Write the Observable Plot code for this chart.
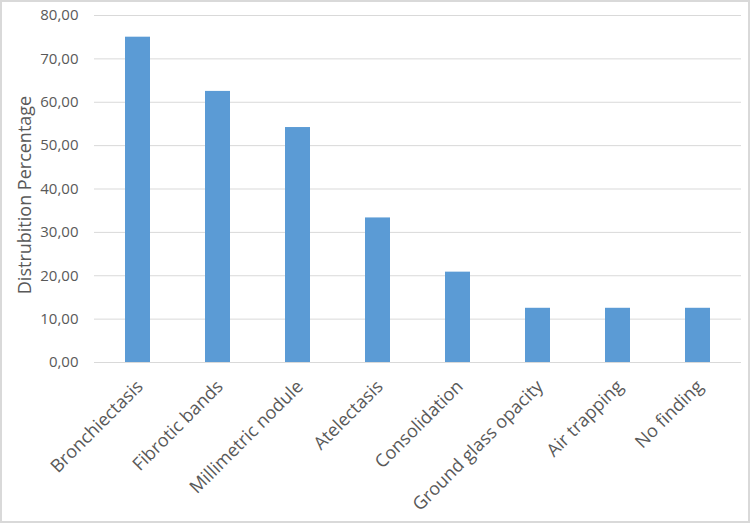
<!DOCTYPE html>
<html>
<head>
<meta charset="utf-8">
<script src="https://cdn.jsdelivr.net/npm/d3@7"></script>
<script src="https://cdn.jsdelivr.net/npm/@observablehq/plot@0.6"></script>
<style>
  html, body { margin: 0; padding: 0; background: #fff; }
  #wrap { position: relative; width: 750px; height: 523px; }
  #border { position: absolute; left: 0; top: 0; width: 750px; height: 523px; box-sizing: border-box;
            border: 2px solid #d9d9d9; pointer-events: none; }
  svg { display: block; }
</style>
</head>
<body>
<div id="wrap"><div id="border"></div></div>
<script>
const categories = ["Bronchiectasis", "Fibrotic bands", "Millimetric nodule", "Atelectasis",
                    "Consolidation", "Ground glass opacity", "Air trapping", "No finding"];
const values = [75.00, 62.50, 54.17, 33.33, 20.83, 12.50, 12.50, 12.50];
const yTicks = [0, 10, 20, 30, 40, 50, 60, 70, 80];
const yTitle = "Distrubition Percentage";

const data = categories.map((c, i) => ({category: c, value: values[i]}));
const fmt = d => d.toFixed(2).replace(".", ",");
const font = "'Open Sans', 'Liberation Sans', sans-serif";

const chart = Plot.plot({
  width: 750,
  height: 523,
  marginLeft: 94,
  marginRight: 9,
  marginTop: 15,
  marginBottom: 161,
  style: {fontFamily: font, color: "#595959", background: "#fff"},
  x: {domain: categories, paddingInner: 0.685, paddingOuter: 0.3425, align: 0.5, label: null},
  y: {domain: [0, 80], label: null},
  marks: [
    Plot.gridY(yTicks, {stroke: "#d9d9d9", strokeOpacity: 1, strokeWidth: 1}),
    Plot.barY(data, {x: "category", y: "value", fill: "#5B9BD5"}),
    Plot.axisY(yTicks, {tickSize: 0, tickPadding: 16, tickFormat: fmt, fontSize: 15, label: null}),
    Plot.text([yTitle], {frameAnchor: "left", textAnchor: "middle", rotate: -90, dx: -69, dy: 6,
      fontSize: 18, fill: "#595959"}),
    Plot.axisX({tickSize: 0, tickRotate: -45, tickPadding: 12, dy: 9, dx: 2, fontSize: 18, label: null})
  ]
});
document.getElementById("wrap").prepend(chart);
</script>
</body>
</html>
